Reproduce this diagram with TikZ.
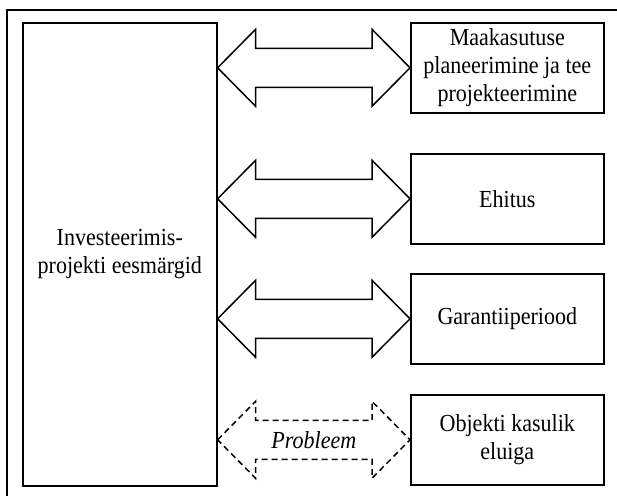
\documentclass[tikz,border=0pt]{standalone}
\usepackage{fontspec}
\setmainfont{Liberation Serif}[FakeStretch=0.9]
\usetikzlibrary{positioning, calc}

% wide two-headed arrow between two tips on one level
\newcommand{\fatarrow}[3][]{%
    \draw[arrowline, #1] (#2) -- ++(38,-38.5) -- ++(0,19) -- ($(#3)+(-38,-19.5)$) -- ++(0,-19) -- (#3)
        -- ++(-38,38.5) -- ++(0,-19) -- ($(#2)+(38,19.5)$) -- ++(0,19) -- cycle;}

\begin{document}
\begin{tikzpicture}[
        x=1pt, y=-1pt,
        font=\fontsize{24.5}{28}\selectfont,
        box/.style={draw, line width=1.6pt, align=center, inner sep=2pt},
        goalbox/.style={box, minimum width=194pt, minimum height=463pt},
        stagebox/.style={box, minimum width=193pt, minimum height=90pt},
        arrowline/.style={line width=1.5pt, line join=miter},
        problem/.style={dash pattern=on 6pt off 4pt},
    ]
    \useasboundingbox (0,0) rectangle (617,495);
    \clip (0,0) rectangle (617,495);

        % Draw the outer frame (only top and left are on the page)
        \draw[line width=1.6pt] (7,520) -- (7,10) -- (640,10);

        % Draw the goals box
        \node[goalbox, anchor=north west] (goals) at (22,22) {Investeerimis-\\projekti eesmärgid};

        % Draw the stage boxes
        \foreach \i / \top / \txt in {1/22/{Maakasutuse\\planeerimine ja tee\\projekteerimine}, 2/153/{Ehitus}, 3/273/{Garantiiperiood}, 4/394/{Objekti kasulik\\eluiga}}
            \node[stagebox, anchor=north west] (stage-\i) at (410,\top) {\txt};

        % Connect the goals box with every stage box
        \foreach \i in {1,...,4}
            \coordinate (tip-\i) at (goals.east |- stage-\i.west);
        \foreach \i in {1,...,3}
            \fatarrow{tip-\i}{stage-\i.west};
        \fatarrow[problem]{tip-4}{stage-4.west};
        \node[font=\fontsize{24.5}{28}\selectfont\itshape] (problem-label) at ($(tip-4)!0.5!(stage-4.west)$) {Probleem};
\end{tikzpicture}
\end{document}
